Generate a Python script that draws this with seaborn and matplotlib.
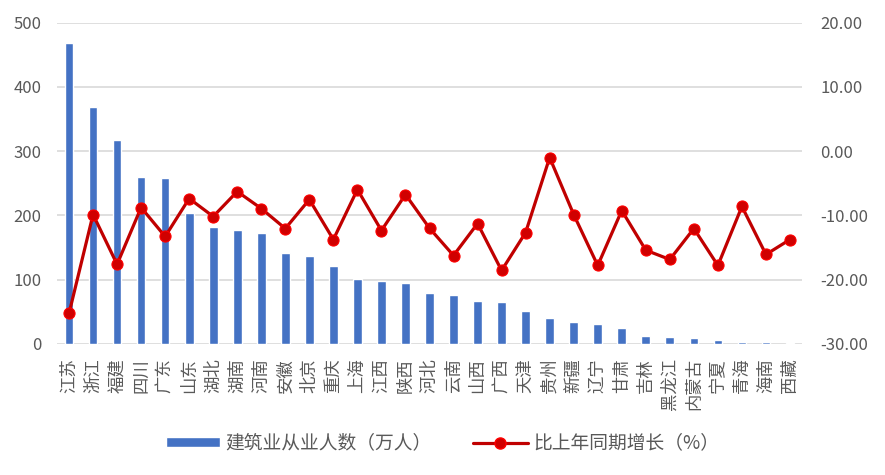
import numpy as np
import pandas as pd
import matplotlib
matplotlib.use("Agg")
import matplotlib.pyplot as plt
import seaborn as sns
from matplotlib.patches import Patch
from matplotlib.lines import Line2D

provinces = ["江苏", "浙江", "福建", "四川", "广东", "山东", "湖北", "湖南", "河南", "安徽",
             "北京", "重庆", "上海", "江西", "陕西", "河北", "云南", "山西", "广西", "天津",
             "贵州", "新疆", "辽宁", "甘肃", "吉林", "黑龙江", "内蒙古", "宁夏", "青海", "海南", "西藏"]
workers = [468, 369, 317, 260, 258, 204, 182, 177, 173, 142,
           137, 121, 101, 98, 95, 79, 76, 67, 65, 51,
           40.5, 34, 31, 25, 12.5, 11, 9.5, 6.3, 3.5, 3.5, 1.5]
growth = [-25.25, -9.85, -17.6, -8.76, -13.27, -7.36, -10.16, -6.27, -8.92, -12.03,
          -7.52, -13.74, -5.96, -12.34, -6.74, -11.98, -16.23, -11.25, -18.56, -12.65,
          -0.98, -9.85, -17.78, -9.23, -15.4, -16.85, -12.03, -17.78, -8.6, -16.07, -13.74]

bar_label = "建筑业从业人数（万人）"
line_label = "比上年同期增长（%）"

df = pd.DataFrame({"province": provinces, "workers": workers, "growth": growth})
df["pos"] = np.arange(len(df))

sns.set_style("white")
plt.rcParams["font.family"] = ["Noto Sans CJK SC", "DejaVu Sans"]

grey = "#595959"
blue = "#4472C4"
red = "#C00000"

fig = plt.figure(figsize=(8.85, 4.75), dpi=100)
ax = fig.add_axes([57 / 885, 1 - 344 / 475, 745 / 885, (344 - 22.7) / 475])

sns.barplot(data=df, x="province", y="workers", color=blue, width=0.36,
            saturation=1, ax=ax, order=provinces)
ax.set_ylim(0, 500)
ax.set_yticks(range(0, 501, 100))
ax.set_xlim(-0.5, len(df) - 0.5)
ax.grid(axis="y", color="#D9D9D9", linewidth=1.2)
ax.set_axisbelow(True)
ax.set_xlabel("")
ax.set_ylabel("")
ax.tick_params(axis="y", colors=grey, labelsize=12, length=0, pad=11)
ax.tick_params(axis="x", labelsize=12.5, length=0, pad=10, labelcolor=grey)
ax.set_xticks(range(len(df)))
ax.set_xticklabels(provinces, rotation=90)
for s in ax.spines.values():
    s.set_visible(False)

ax2 = ax.twinx()
sns.lineplot(data=df, x="pos", y="growth", ax=ax2, color=red, linewidth=2.3,
             marker="o", markersize=8, markerfacecolor="#D00000",
             markeredgecolor="#FF0000", markeredgewidth=0.8)
ax2.set_ylim(-30, 20)
ax2.set_yticks(range(-30, 21, 10))
ax2.set_yticklabels([f"{v:.2f}" for v in range(-30, 21, 10)])
ax2.set_xlim(-0.5, len(df) - 0.5)
ax2.set_ylabel("")
ax2.tick_params(axis="y", colors=grey, labelsize=12, length=0, pad=13)
for s in ax2.spines.values():
    s.set_visible(False)

handles = [Patch(facecolor=blue, label=bar_label),
           Line2D([0], [0], color=red, linewidth=2.3, marker="o", markersize=8,
                  markerfacecolor="#D00000", markeredgecolor="#FF0000", label=line_label)]
fig.legend(handles=handles, loc="center", bbox_to_anchor=(0.5, 1 - 443 / 475), ncol=2,
           frameon=False, fontsize=13.5, labelcolor=grey, columnspacing=2.2,
           handlelength=2.9, handleheight=0.5, handletextpad=0.3)

fig.savefig("out.png", dpi=100)
